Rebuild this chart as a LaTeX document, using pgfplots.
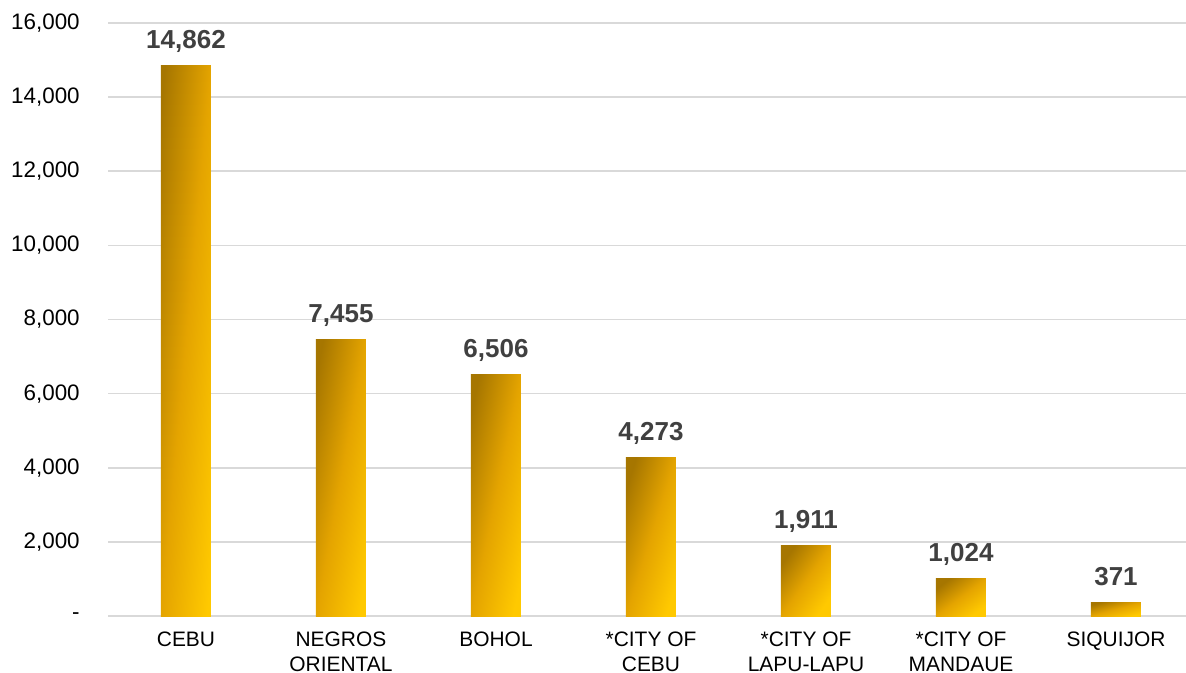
\documentclass[border=0pt]{standalone}
\usepackage{pgfplots}
\pgfplotsset{compat=1.18}
\usepackage{fontspec}
\setmainfont{Liberation Sans}
\definecolor{gridc}{HTML}{D9D9D9}
\definecolor{lblc}{HTML}{404040}
\definecolor{darkgold}{HTML}{A67600}
\definecolor{midgold}{HTML}{E4A400}
\definecolor{lightgold}{HTML}{FFC900}
\pgfplotsset{goldbar/.style={ybar, bar width=37.5pt, bar shift=0pt, draw=none, top color=darkgold, bottom color=lightgold, middle color=midgold, shading angle=#1}}
\begin{document}
\begin{tikzpicture}
\begin{axis}[
  name=ax,
  scale only axis,
  width=813.75pt, height=444.75pt,
  xmin=-0.5, xmax=6.5,
  ymin=0, ymax=16000,
  scaled y ticks=false,
  axis line style={draw=none},
  major tick length=0pt,
  ymajorgrids,
  grid style={draw=gridc, line width=1.2pt},
  ytick={0,2000,4000,6000,8000,10000,12000,14000,16000},
  yticklabels={{-},{2,000},{4,000},{6,000},{8,000},{10,000},{12,000},{14,000},{16,000}},
  yticklabel style={anchor=east, inner sep=0pt, xshift=-21.4pt, font=\fontsize{16.8}{19}\selectfont},
  xtick={0,1,2,3,4,5,6},
  xticklabels={CEBU, {NEGROS\\ORIENTAL}, BOHOL, {*CITY OF\\CEBU}, {*CITY OF\\LAPU-LAPU}, {*CITY OF\\MANDAUE}, SIQUIJOR},
  xticklabel style={anchor=north, inner sep=0pt, yshift=-12pt, align=center, font=\fontsize{15.7}{18.75}\selectfont},
  /pgf/number format/1000 sep={,},
  /pgf/number format/assume math mode=true,
  nodes near coords,
  nodes near coords style={anchor=base, inner sep=0pt, yshift=12.75pt, text=lblc, font=\fontsize{19.5}{22}\selectfont\bfseries},
]
\addplot[goldbar=84.81] coordinates {(0,14862)};
\addplot[goldbar=79.74] coordinates {(1,7455)};
\addplot[goldbar=78.29] coordinates {(2,6506)};
\addplot[goldbar=72.48] coordinates {(3,4273)};
\addplot[goldbar=54.78] coordinates {(4,1911)};
\addplot[goldbar=37.20] coordinates {(5,1024)};
\addplot[goldbar=15.38] coordinates {(6,371)};
\end{axis}
\pgfresetboundingbox
\path[use as bounding box] ([xshift=-81.375pt, yshift=-42pt]ax.south west) rectangle ([xshift=808.125pt, yshift=462pt]ax.south west);
\end{tikzpicture}
\end{document}
